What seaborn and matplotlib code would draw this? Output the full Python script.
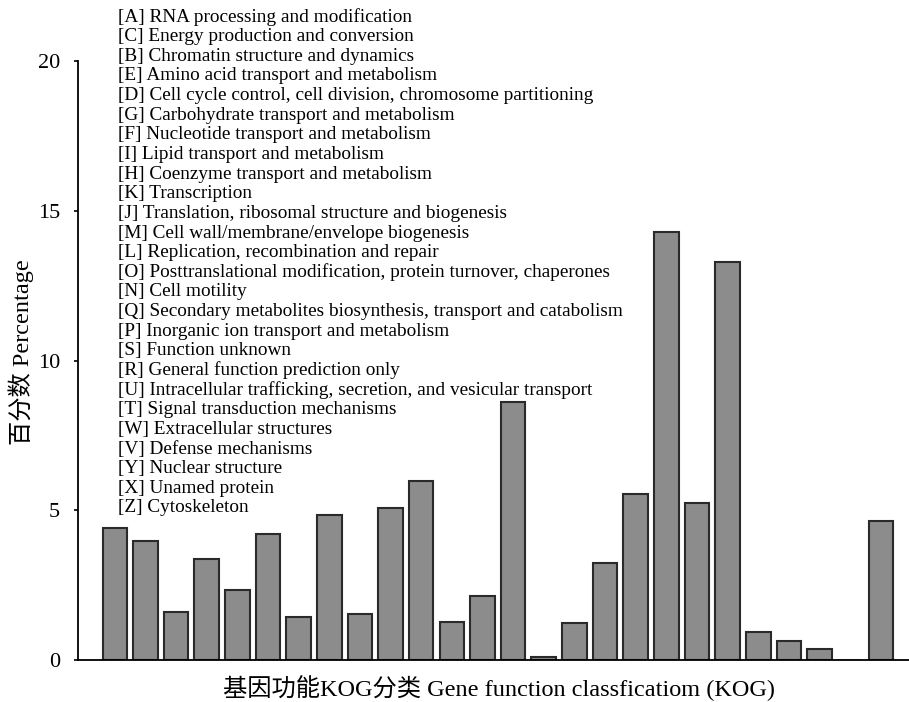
import matplotlib
matplotlib.use("Agg")
import matplotlib.pyplot as plt
import seaborn as sns
import pandas as pd

# KOG functional categories, in plotting order
codes = ["A", "C", "B", "E", "D", "G", "F", "I", "H", "K", "J", "M", "L",
         "O", "N", "Q", "P", "S", "R", "U", "T", "W", "V", "Y", "X", "Z"]
names = [
    "RNA processing and modification",
    "Energy production and conversion",
    "Chromatin structure and dynamics",
    "Amino acid transport and metabolism",
    "Cell cycle control, cell division, chromosome partitioning",
    "Carbohydrate transport and metabolism",
    "Nucleotide transport and metabolism",
    "Lipid transport and metabolism",
    "Coenzyme transport and metabolism",
    "Transcription",
    "Translation, ribosomal structure and biogenesis",
    "Cell wall/membrane/envelope biogenesis",
    "Replication, recombination and repair",
    "Posttranslational modification, protein turnover, chaperones",
    "Cell motility",
    "Secondary metabolites biosynthesis, transport and catabolism",
    "Inorganic ion transport and metabolism",
    "Function unknown",
    "General function prediction only",
    "Intracellular trafficking, secretion, and vesicular transport",
    "Signal transduction mechanisms",
    "Extracellular structures",
    "Defense mechanisms",
    "Nuclear structure",
    "Unamed protein",
    "Cytoskeleton",
]
# Bars are drawn in this order (one per category)
bar_values = [4.42, 3.97, 1.60, 3.37, 2.34, 4.20, 1.44, 4.85, 1.53, 5.07,
              5.97, 1.26, 2.13, 8.60, 0.10, 1.23, 3.24, 5.54, 14.28, 5.25,
              13.28, 0.94, 0.63, 0.38, 0.0, 4.63]
yticks = [0, 5, 10, 15, 20]

serif = ["Liberation Serif", "Noto Sans CJK SC", "DejaVu Sans"]

sns.set_theme(style="ticks")
plt.rcParams["font.family"] = serif
plt.rcParams["text.color"] = "black"

df = pd.DataFrame({"pos": list(range(len(bar_values))), "value": bar_values})

fig = plt.figure(figsize=(9.09, 7.02), dpi=100)
ax = fig.add_axes([78 / 909, 42 / 702, 1 - 78 / 909, 599 / 702])

sns.barplot(data=df, x="pos", y="value", color="#8c8c8c", saturation=1,
            edgecolor="#2a2a2a", linewidth=1.5, width=0.8, ax=ax,
            native_scale=True)
# empty category shows only a faint baseline mark
ax.patches[24].set_edgecolor("#a9b8d6")

ax.set_xlim(-1.2, 25.92)
ax.set_ylim(0, 20)
ax.set_yticks(yticks)
ax.set_yticklabels([str(t) for t in yticks], fontsize=16, family=serif)
ax.set_xticks([])
ax.set_xlabel("")
ax.set_ylabel("")
ax.tick_params(axis="y", direction="out", length=3, width=1.2, pad=10,
               colors="black")
for side in ("top", "right"):
    ax.spines[side].set_visible(False)
for side in ("left", "bottom"):
    ax.spines[side].set_color("black")
    ax.spines[side].set_linewidth(1.3)

# category key listed at upper left
y0, step = 17, 19.64
for i, (c, n) in enumerate(zip(codes, names)):
    fig.text(118 / 909, 1 - (y0 + i * step) / 702, f"[{c}] {n}",
             fontsize=13.9, va="center", ha="left", family=serif)

fig.text(499 / 909, 1 - 688 / 702,
         "基因功能KOG分类 Gene function classficatiom (KOG)",
         fontsize=17.5, ha="center", va="center", family=serif)
fig.text(21 / 909, 1 - 352 / 702, "百分数 Percentage", fontsize=17.5,
         rotation=90, ha="center", va="center", family=serif)

fig.savefig("out.png", dpi=100)
